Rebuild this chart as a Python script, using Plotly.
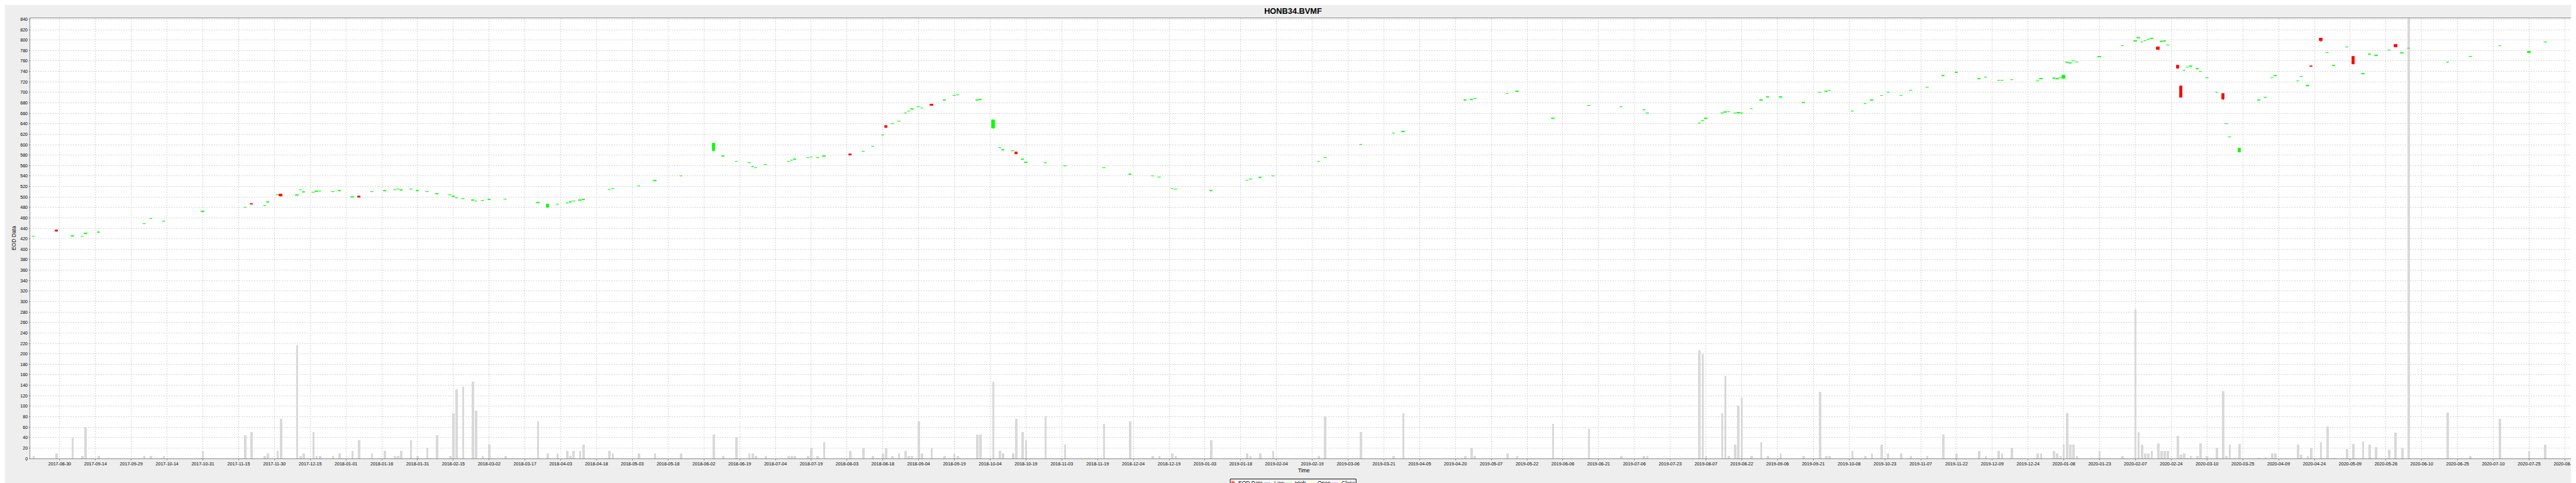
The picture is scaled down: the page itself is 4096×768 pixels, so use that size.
import pandas as pd
import plotly.graph_objects as go

TITLE = "HONB34.BVMF"

tick_labels = [
    "2017-08-30", "2017-09-14", "2017-09-29", "2017-10-14", "2017-10-31", "2017-11-15",
    "2017-11-30", "2017-12-15", "2018-01-01", "2018-01-16", "2018-01-31", "2018-02-15",
    "2018-03-02", "2018-03-17", "2018-04-03", "2018-04-18", "2018-05-03", "2018-05-18",
    "2018-06-02", "2018-06-19", "2018-07-04", "2018-07-19", "2018-08-03", "2018-08-18",
    "2018-09-04", "2018-09-19", "2018-10-04", "2018-10-19", "2018-11-03", "2018-11-19",
    "2018-12-04", "2018-12-19", "2019-01-03", "2019-01-18", "2019-02-04", "2019-02-19",
    "2019-03-06", "2019-03-21", "2019-04-05", "2019-04-20", "2019-05-07", "2019-05-22",
    "2019-06-06", "2019-06-21", "2019-07-06", "2019-07-23", "2019-08-07", "2019-08-22",
    "2019-09-06", "2019-09-21", "2019-10-08", "2019-10-23", "2019-11-07", "2019-11-22",
    "2019-12-09", "2019-12-24", "2020-01-08", "2020-01-23", "2020-02-07", "2020-02-24",
    "2020-03-10", "2020-03-25", "2020-04-09", "2020-04-24", "2020-05-09", "2020-05-26",
    "2020-06-10", "2020-06-25", "2020-07-10", "2020-07-25", "2020-08-11",
]
tick_step_weekdays = 11

dates = [
    "2017-08-18", "2017-08-29", "2017-09-05", "2017-09-08", "2017-09-11", "2017-09-15",
    "2017-10-05", "2017-10-09", "2017-10-13", "2017-10-31", "2017-11-17", "2017-11-21",
    "2017-11-27", "2017-11-28", "2017-12-01", "2017-12-04", "2017-12-11", "2017-12-12",
    "2017-12-13", "2017-12-18", "2017-12-19", "2017-12-20", "2017-12-26", "2017-12-28",
    "2018-01-03", "2018-01-05", "2018-01-11", "2018-01-17", "2018-01-22", "2018-01-23",
    "2018-01-24", "2018-01-29", "2018-01-31", "2018-02-05", "2018-02-08", "2018-02-14",
    "2018-02-15", "2018-02-16", "2018-02-20", "2018-02-23", "2018-02-26", "2018-02-28",
    "2018-03-02", "2018-03-09", "2018-03-23", "2018-03-28", "2018-04-02", "2018-04-05",
    "2018-04-06", "2018-04-09", "2018-04-11", "2018-04-12", "2018-04-24", "2018-04-25",
    "2018-05-07", "2018-05-14", "2018-05-24", "2018-06-07", "2018-06-12", "2018-06-18",
    "2018-06-22", "2018-06-25", "2018-06-26", "2018-06-29", "2018-07-10", "2018-07-11",
    "2018-07-12", "2018-07-18", "2018-07-19", "2018-07-23", "2018-07-25", "2018-08-06",
    "2018-08-10", "2018-08-15", "2018-08-20", "2018-08-21", "2018-08-23", "2018-08-27",
    "2018-08-29", "2018-08-30", "2018-08-31", "2018-09-04", "2018-09-05", "2018-09-10",
    "2018-09-14", "2018-09-19", "2018-09-20", "2018-09-28", "2018-10-01", "2018-10-05",
    "2018-10-09", "2018-10-10", "2018-10-15", "2018-10-16", "2018-10-18", "2018-10-19",
    "2018-10-29", "2018-11-06", "2018-11-22", "2018-12-04", "2018-12-13", "2018-12-17",
    "2018-12-21", "2018-12-24", "2019-01-08", "2019-01-23", "2019-01-24", "2019-01-29",
    "2019-02-04", "2019-02-22", "2019-02-26", "2019-03-13", "2019-03-27", "2019-04-01",
    "2019-04-26", "2019-04-30", "2019-05-01", "2019-05-15", "2019-05-20", "2019-06-04",
    "2019-06-19", "2019-07-03", "2019-07-12", "2019-07-15", "2019-08-06", "2019-08-07",
    "2019-08-08", "2019-08-15", "2019-08-16", "2019-08-19", "2019-08-21", "2019-08-22",
    "2019-08-23", "2019-08-28", "2019-09-02", "2019-09-04", "2019-09-10", "2019-09-19",
    "2019-09-26", "2019-09-30", "2019-10-01", "2019-10-10", "2019-10-16", "2019-10-18",
    "2019-10-23", "2019-10-25", "2019-10-31", "2019-11-05", "2019-11-12", "2019-11-19",
    "2019-11-25", "2019-12-04", "2019-12-06", "2019-12-12", "2019-12-13", "2019-12-18",
    "2019-12-30", "2019-12-31", "2020-01-06", "2020-01-07", "2020-01-08", "2020-01-09",
    "2020-01-10", "2020-01-13", "2020-01-14", "2020-01-15", "2020-01-24", "2020-02-04",
    "2020-02-10", "2020-02-11", "2020-02-12", "2020-02-13", "2020-02-14", "2020-02-17",
    "2020-02-19", "2020-02-20", "2020-02-21", "2020-02-24", "2020-02-27", "2020-02-28",
    "2020-03-02", "2020-03-03", "2020-03-04", "2020-03-06", "2020-03-09", "2020-03-11",
    "2020-03-16", "2020-03-18", "2020-03-19", "2020-03-20", "2020-03-25", "2020-04-02",
    "2020-04-06", "2020-04-08", "2020-04-09", "2020-04-20", "2020-04-21", "2020-04-23",
    "2020-04-24", "2020-04-29", "2020-05-01", "2020-05-05", "2020-05-11", "2020-05-13",
    "2020-05-18", "2020-05-20", "2020-05-22", "2020-05-28", "2020-06-01", "2020-06-03",
    "2020-06-05", "2020-06-23", "2020-07-02", "2020-07-15", "2020-07-28", "2020-08-04",
]

volumes = [
    5, 10, 40, 5, 60, 5,
    5, 5, 5, 15, 45, 50,
    5, 10, 15, 76, 217, 5,
    10, 50, 5, 5, 5, 10,
    15, 35, 10, 15, 5, 5,
    15, 35, 5, 20, 45, 5,
    86, 132, 137, 147, 91, 5,
    26, 5, 71, 10, 10, 15,
    5, 15, 15, 26, 15, 10,
    10, 10, 10, 46, 5, 41,
    10, 10, 5, 5, 5, 5,
    5, 5, 20, 5, 31, 15,
    20, 5, 10, 20, 5, 10,
    15, 5, 5, 71, 10, 20,
    5, 10, 5, 46, 46, 147,
    15, 10, 10, 76, 51, 35,
    81, 26, 66, 71, 5, 5,
    10, 5, 35, 10, 5, 10,
    15, 5, 81, 51, 5, 86,
    5, 20, 5, 10, 5, 66,
    56, 5, 5, 5, 207, 200,
    5, 86, 157, 5, 26, 101,
    117, 5, 31, 5, 10, 5,
    127, 5, 5, 15, 5, 10,
    26, 10, 10, 5, 5, 46,
    10, 15, 5, 15, 10, 21,
    10, 10, 15, 10, 5, 26,
    86, 26, 26, 5, 15, 5,
    285, 51, 26, 10, 10, 15,
    29, 15, 15, 15, 43, 7,
    10, 1, 5, 5, 29, 5,
    21, 129, 5, 26, 28, 1,
    3, 10, 10, 26, 7, 5,
    20, 31, 61, 1, 18, 28,
    32, 26, 22, 17, 49, 19,
    880, 88, 5, 76, 15, 26,
]

opens = [
    424.6, 436.4, 425.0, 424.4, 429.6, 432.1,
    448.6, 458.2, 453.0, 471.8, 479.8, 487.5,
    483.2, 489.6, 504.0, 505.0, 503.2, 512.9,
    508.9, 508.6, 510.3, 510.6, 509.6, 511.6,
    499.6, 502.0, 509.6, 511.6, 513.6, 514.6,
    512.6, 514.6, 511.6, 509.6, 505.6, 503.6,
    500.6, 497.6, 496.6, 493.6, 491.6, 492.6,
    494.6, 495.6, 488.6, 480.0, 485.6, 487.6,
    489.6, 491.6, 493.6, 494.6, 513.6, 515.6,
    520.6, 530.6, 539.6, 588.0, 577.6, 567.6,
    564.6, 557.6, 555.6, 561.6, 567.6, 569.6,
    571.6, 574.6, 575.6, 574.6, 577.6, 582.0,
    586.6, 596.6, 617.6, 636.0, 639.6, 644.6,
    659.6, 663.6, 667.6, 671.6, 669.6, 677.0,
    684.6, 693.6, 694.6, 684.6, 685.6, 631.0,
    593.6, 589.6, 587.6, 586.0, 571.6, 565.6,
    564.6, 558.6, 555.6, 542.6, 539.6, 537.6,
    515.6, 514.6, 511.6, 531.6, 533.6, 536.6,
    539.6, 567.6, 574.6, 599.6, 621.6, 624.6,
    684.6, 685.6, 687.6, 697.6, 701.6, 649.6,
    674.6, 671.6, 665.6, 659.6, 640.6, 645.6,
    649.6, 659.6, 661.6, 662.6, 659.6, 660.6,
    659.6, 668.6, 684.6, 690.6, 690.6, 679.6,
    699.6, 701.6, 703.6, 663.6, 677.6, 684.6,
    693.6, 699.6, 693.6, 703.6, 709.6, 731.6,
    737.6, 725.6, 728.6, 722.6, 722.6, 723.6,
    721.6, 725.6, 726.6, 725.6, 727.6, 726.0,
    756.6, 755.6, 759.6, 757.6, 767.6, 788.6,
    797.6, 803.6, 795.6, 798.6, 800.6, 802.6,
    786.0, 796.6, 797.6, 789.6, 751.0, 712.0,
    741.6, 747.6, 749.6, 744.6, 739.6, 727.6,
    699.6, 697.0, 639.6, 614.6, 585.0, 684.6,
    689.6, 727.6, 731.6, 721.3, 729.6, 712.4,
    750.6, 803.0, 775.6, 750.6, 786.1, 768.7,
    735.0, 772.4, 769.8, 780.1, 790.8, 774.9,
    784.1, 757.6, 767.8, 788.6, 775.3, 795.5,
]

highs = [
    425.2, 436.6, 425.6, 425.0, 430.2, 432.7,
    449.2, 458.8, 453.6, 472.4, 480.4, 487.7,
    483.8, 490.2, 504.6, 505.3, 503.8, 513.5,
    509.5, 509.2, 510.9, 511.2, 510.2, 512.2,
    500.2, 502.3, 510.2, 512.2, 514.2, 515.2,
    513.2, 515.2, 512.2, 510.2, 506.2, 504.2,
    501.2, 498.2, 497.2, 494.2, 492.2, 493.2,
    495.2, 496.2, 489.2, 486.5, 486.2, 488.2,
    490.2, 492.2, 494.2, 495.2, 514.2, 516.2,
    521.2, 531.2, 540.2, 603.5, 578.2, 568.2,
    565.2, 558.2, 556.2, 562.2, 568.2, 570.2,
    572.2, 575.2, 576.2, 575.2, 578.2, 582.3,
    587.2, 597.2, 618.2, 636.3, 640.2, 645.2,
    660.2, 664.2, 668.2, 672.2, 670.2, 677.3,
    685.2, 694.2, 695.2, 685.2, 686.2, 647.5,
    594.2, 590.2, 588.2, 586.3, 572.2, 566.2,
    565.2, 559.2, 556.2, 543.2, 540.2, 538.2,
    516.2, 515.2, 512.2, 532.2, 534.2, 537.2,
    540.2, 568.2, 575.2, 600.2, 622.2, 625.2,
    685.2, 686.2, 688.2, 698.2, 702.2, 650.2,
    675.2, 672.2, 666.2, 660.2, 641.2, 646.2,
    650.2, 660.2, 662.2, 663.2, 660.2, 661.2,
    660.2, 669.2, 685.2, 691.2, 691.2, 680.2,
    700.2, 702.2, 704.2, 664.2, 678.2, 685.2,
    694.2, 700.2, 694.2, 704.2, 710.2, 732.2,
    738.2, 726.2, 729.2, 723.2, 723.2, 724.2,
    722.2, 726.2, 727.2, 726.2, 728.2, 732.4,
    757.2, 756.2, 760.2, 758.2, 768.2, 789.2,
    798.2, 804.2, 796.2, 799.2, 801.2, 803.2,
    786.3, 797.2, 798.2, 790.2, 751.3, 712.3,
    742.2, 748.2, 750.2, 745.2, 740.2, 728.2,
    700.2, 697.3, 640.2, 615.2, 593.4, 685.2,
    690.2, 728.2, 732.2, 721.9, 730.2, 713.0,
    750.9, 803.3, 776.2, 751.2, 786.7, 769.0,
    735.6, 773.0, 770.4, 780.7, 791.1, 775.5,
    784.7, 758.2, 768.4, 789.2, 777.8, 796.1,
]

lows = [
    424.4, 433.5, 424.8, 424.2, 429.4, 431.9,
    448.4, 458.0, 452.8, 471.6, 479.6, 485.7,
    483.0, 489.4, 503.8, 500.7, 503.0, 512.7,
    508.7, 508.4, 510.1, 510.4, 509.4, 511.4,
    499.4, 498.7, 509.4, 511.4, 513.4, 514.4,
    512.4, 514.4, 511.4, 509.4, 505.4, 503.4,
    500.4, 497.4, 496.4, 493.4, 491.4, 492.4,
    494.4, 495.4, 488.4, 479.5, 485.4, 487.4,
    489.4, 491.4, 493.4, 494.4, 513.4, 515.4,
    520.4, 530.4, 539.4, 587.5, 577.4, 567.4,
    564.4, 557.4, 555.4, 561.4, 567.4, 569.4,
    571.4, 574.4, 575.4, 574.4, 577.4, 579.7,
    586.4, 596.4, 617.4, 631.7, 639.4, 644.4,
    659.4, 663.4, 667.4, 671.4, 669.4, 674.7,
    684.4, 693.4, 694.4, 684.4, 685.4, 630.5,
    593.4, 589.4, 587.4, 581.7, 571.4, 565.4,
    564.4, 558.4, 555.4, 542.4, 539.4, 537.4,
    515.4, 514.4, 511.4, 531.4, 533.4, 536.4,
    539.4, 567.4, 574.4, 599.4, 621.4, 624.4,
    684.4, 685.4, 687.4, 697.4, 701.4, 649.4,
    674.4, 671.4, 665.4, 659.4, 640.4, 645.4,
    649.4, 659.4, 661.4, 662.4, 659.4, 660.4,
    659.4, 668.4, 684.4, 690.4, 690.4, 679.4,
    699.4, 701.4, 703.4, 663.4, 677.4, 684.4,
    693.4, 699.4, 693.4, 703.4, 709.4, 731.4,
    737.4, 725.4, 728.4, 722.4, 722.4, 723.4,
    721.4, 725.4, 726.4, 725.4, 727.4, 725.8,
    756.4, 755.4, 759.4, 757.4, 767.4, 788.4,
    797.4, 803.4, 795.4, 798.4, 800.4, 802.4,
    780.7, 796.4, 797.4, 789.4, 745.7, 689.7,
    741.4, 747.4, 749.4, 744.4, 739.4, 727.4,
    699.4, 685.7, 639.4, 614.4, 584.8, 684.4,
    689.4, 727.4, 731.4, 721.1, 729.4, 712.2,
    749.3, 796.5, 775.4, 750.4, 785.9, 753.7,
    734.8, 772.2, 769.6, 779.9, 786.2, 774.7,
    783.9, 756.0, 767.6, 788.4, 775.1, 795.3,
]

closes = [
    425.0, 433.8, 425.4, 424.8, 430.0, 432.5,
    449.0, 458.6, 453.4, 472.2, 480.2, 486.0,
    483.6, 490.0, 504.4, 501.0, 503.6, 513.3,
    509.3, 509.0, 510.7, 511.0, 510.0, 512.0,
    500.0, 499.0, 510.0, 512.0, 514.0, 515.0,
    513.0, 515.0, 512.0, 510.0, 506.0, 504.0,
    501.0, 498.0, 497.0, 494.0, 492.0, 493.0,
    495.0, 496.0, 489.0, 486.0, 486.0, 488.0,
    490.0, 492.0, 494.0, 495.0, 514.0, 516.0,
    521.0, 531.0, 540.0, 603.0, 578.0, 568.0,
    565.0, 558.0, 556.0, 562.0, 568.0, 570.0,
    572.0, 575.0, 576.0, 575.0, 578.0, 580.0,
    587.0, 597.0, 618.0, 632.0, 640.0, 645.0,
    660.0, 664.0, 668.0, 672.0, 670.0, 675.0,
    685.0, 694.0, 695.0, 685.0, 686.0, 647.0,
    594.0, 590.0, 588.0, 582.0, 572.0, 566.0,
    565.0, 559.0, 556.0, 543.0, 540.0, 538.0,
    516.0, 515.0, 512.0, 532.0, 534.0, 537.0,
    540.0, 568.0, 575.0, 600.0, 622.0, 625.0,
    685.0, 686.0, 688.0, 698.0, 702.0, 650.0,
    675.0, 672.0, 666.0, 660.0, 641.0, 646.0,
    650.0, 660.0, 662.0, 663.0, 660.0, 661.0,
    660.0, 669.0, 685.0, 691.0, 691.0, 680.0,
    700.0, 702.0, 704.0, 664.0, 678.0, 685.0,
    694.0, 700.0, 694.0, 704.0, 710.0, 732.0,
    738.0, 726.0, 729.0, 723.0, 723.0, 724.0,
    722.0, 726.0, 727.0, 726.0, 728.0, 732.0,
    757.0, 756.0, 760.0, 758.0, 768.0, 789.0,
    798.0, 804.0, 796.0, 799.0, 801.0, 803.0,
    781.0, 797.0, 798.0, 790.0, 746.0, 690.0,
    742.0, 748.0, 750.0, 745.0, 740.0, 728.0,
    700.0, 686.0, 640.0, 615.0, 593.0, 685.0,
    690.0, 728.0, 732.0, 721.7, 730.0, 712.8,
    749.6, 799.0, 776.0, 751.0, 786.5, 754.0,
    735.4, 772.8, 770.2, 780.5, 786.5, 775.3,
    784.5, 758.0, 768.2, 789.0, 777.6, 795.9,
]

# ---------------------------------------------------------------- layout constants
W, H = 4096, 768
ML, MR, MT, MB = 39.8, 5.7, 21.1, 47.4
PW, PH = W - ML - MR, H - MT - MB
DAY_MS = 86400000
HALF_DAY = pd.Timedelta(hours=12)
FONT = "Liberation Sans, Arial, Helvetica, sans-serif"
UP, DOWN = "#00ff00", "#ff0000"


def px_x(px):
    return (px - ML) / PW


def px_y(py):
    return (H - MB - py) / PH


x_pos = pd.to_datetime(dates) + HALF_DAY
first_tick = pd.Timestamp(tick_labels[0]) + HALF_DAY
tick_vals = [first_tick + pd.offsets.BDay(tick_step_weekdays * i) for i in range(len(tick_labels))]

fig = go.Figure()

fig.add_trace(go.Bar(
    x=x_pos, y=volumes, width=0.71 * DAY_MS,
    marker=dict(color="#d9d9d9", line=dict(width=0)),
    showlegend=False, hoverinfo="x+y",
))

up_idx = [i for i in range(len(opens)) if closes[i] >= opens[i]]
dn_idx = [i for i in range(len(opens)) if closes[i] < opens[i]]

for idx, col in ((up_idx, UP), (dn_idx, DOWN)):
    wx, wy = [], []
    for i in idx:
        wx += [x_pos[i], x_pos[i], None]
        wy += [lows[i], highs[i], None]
    fig.add_trace(go.Scatter(x=wx, y=wy, mode="lines", line=dict(color=col, width=1),
                             showlegend=False, hoverinfo="skip"))
    fig.add_trace(go.Bar(
        x=[x_pos[i] for i in idx],
        base=[min(opens[i], closes[i]) for i in idx],
        y=[abs(closes[i] - opens[i]) for i in idx],
        width=0.86 * DAY_MS,
        marker=dict(color=col, line=dict(color=col, width=0.8)),
        showlegend=False, hoverinfo="skip",
    ))

# ---------------------------------------------------------------- legend (drawn)
shapes = [
    dict(type="rect", xref="paper", yref="paper", x0=px_x(1948.2), x1=px_x(2148.3),
         y0=px_y(767.1), y1=px_y(753.3), line=dict(color="black", width=1), fillcolor="white"),
    dict(type="rect", xref="paper", yref="paper", x0=px_x(1949.9), x1=px_x(1955.2),
         y0=px_y(762.0), y1=px_y(756.8), line=dict(width=0), fillcolor="#ff5555"),
]
legend_lines = [(2002.2, "#5555ff"), (2036.8, "#55ff55"), (2072.7, "#ffff55"), (2109.2, "#ff55ff")]
for x0, col in legend_lines:
    shapes.append(dict(type="line", xref="paper", yref="paper", x0=px_x(x0), x1=px_x(x0 + 9.6),
                       y0=px_y(759.6), y1=px_y(759.6), line=dict(color=col, width=1)))
legend_texts = [(1959.2, "EOD Data"), (2016.0, "Low"), (2048.7, "High"), (2084.6, "Open"), (2123.0, "Close")]
annotations = []
for x0, t in legend_texts:
    annotations.append(dict(text=t, xref="paper", yref="paper", x=px_x(x0), y=px_y(759.8),
                            xanchor="left", yanchor="middle", showarrow=False,
                            font=dict(family=FONT, size=8.5, color="black")))
annotations.append(dict(text="Time", xref="paper", yref="paper", x=0.5, y=px_y(740.0),
                        xanchor="center", yanchor="middle", showarrow=False,
                        font=dict(family=FONT, size=8.5, color="black")))
annotations.append(dict(text="EOD Data", xref="paper", yref="paper", x=px_x(13.9), y=0.5,
                        xanchor="center", yanchor="middle", textangle=-90, showarrow=False,
                        font=dict(family=FONT, size=8.5, color="black")))

fig.update_layout(
    width=W, height=H,
    margin=dict(l=ML, r=MR, t=MT, b=MB, pad=0),
    paper_bgcolor="#eeeeee", plot_bgcolor="white",
    barmode="overlay", bargap=0,
    title=dict(text=TITLE, x=0.5, xref="container", xanchor="center",
               y=1 - 9.2 / H, yref="container", yanchor="middle",
               font=dict(family=FONT, size=12.8, color="black", weight="bold")),
    showlegend=False,
    shapes=shapes, annotations=annotations,
    xaxis=dict(
        type="date",
        range=["2017-08-17 10:19", "2020-08-18 07:12"],
        rangebreaks=[dict(bounds=["sat", "mon"])],
        tickmode="array", tickvals=tick_vals, ticktext=tick_labels,
        ticks="outside", ticklen=1.5, tickcolor="#8a8a8a",
        tickfont=dict(family=FONT, size=7.1, color="black"),
        showgrid=True, gridcolor="#d4d4d4", gridwidth=1, griddash="2px,2px",
        showline=True, linecolor="#8a8a8a", linewidth=1, mirror=True,
        zeroline=False, rangeslider=dict(visible=False), fixedrange=True,
    ),
    yaxis=dict(
        range=[0, 841.7], tick0=0, dtick=20,
        ticks="outside", ticklen=1.5, tickcolor="#8a8a8a",
        tickfont=dict(family=FONT, size=7.1, color="black"),
        showgrid=True, gridcolor="#d4d4d4", gridwidth=1, griddash="2px,2px",
        showline=True, linecolor="#8a8a8a", linewidth=1, mirror=True,
        zeroline=False, fixedrange=True,
    ),
)

fig.write_html("out.html")
